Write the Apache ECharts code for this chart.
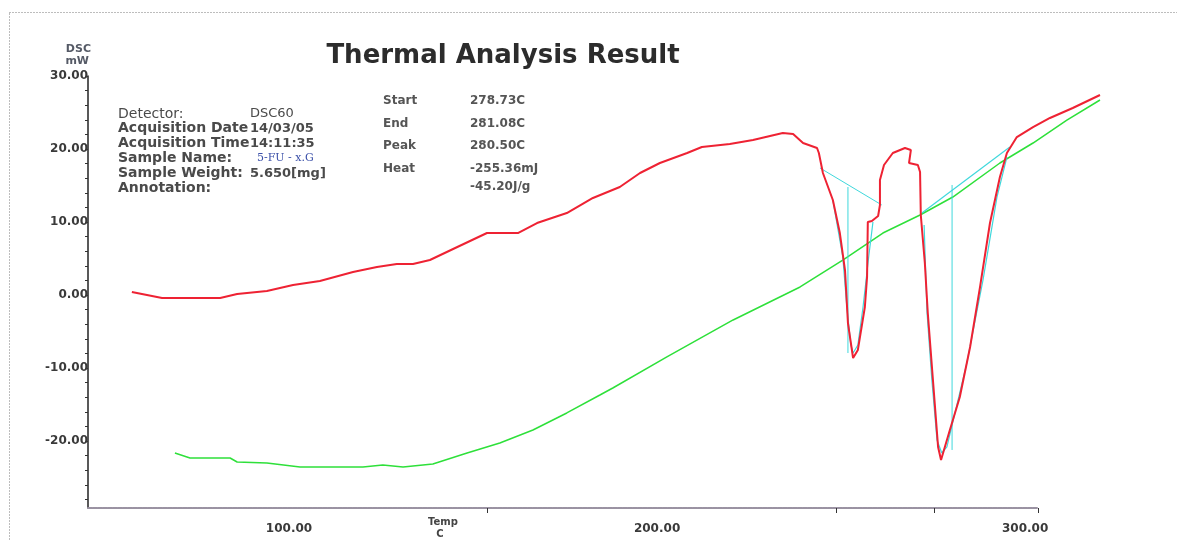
<!DOCTYPE html>
<html>
<head>
<meta charset="utf-8">
<title>Thermal Analysis Result</title>
<script src="https://cdn.jsdelivr.net/npm/echarts@6/dist/echarts.min.js"></script>
<style>
  html, body { margin: 0; padding: 0; background: #fff; }
  #chart { width: 1177px; height: 540px; }
</style>
</head>
<body>
<div id="chart"></div>
<script>
// DSC trace: [temperature C, heat flow mW]
const dscCurve = [
  [57.3, 0.41], [61.4, 0.0], [65.5, -0.41], [73.1, -0.41], [81.3, -0.41], [85.9, 0.14],
  [94.0, 0.55], [101.1, 1.37], [108.4, 1.92], [117.4, 3.15], [123.9, 3.84], [129.3, 4.25],
  [133.7, 4.25], [138.3, 4.79], [144.6, 6.30], [153.8, 8.49], [162.2, 8.49], [167.4, 9.86],
  [175.5, 11.23], [182.6, 13.29], [189.9, 14.79], [195.4, 16.71], [200.8, 18.08], [208.2, 19.45],
  [212.2, 20.27], [219.8, 20.68], [226.1, 21.23], [234.2, 22.19], [237.0, 22.05], [239.7, 20.82],
  [243.5, 20.14], [244.0, 19.45], [245.1, 16.71], [247.8, 13.01], [249.7, 8.49], [251.1, 3.42],
  [251.9, -3.84], [253.3, -8.63], [254.6, -7.53], [256.5, -1.64], [257.1, 2.47], [257.3, 10.0],
  [258.4, 10.14], [260.1, 10.82], [260.6, 12.33], [260.6, 15.75], [261.7, 17.81], [264.1, 19.45],
  [267.4, 20.14], [269.0, 19.86], [268.5, 18.08], [270.9, 17.81], [271.5, 16.85], [271.7, 10.96],
  [272.8, 4.38], [273.6, -2.47], [275.0, -11.64], [276.4, -20.82], [277.2, -22.60], [279.6, -18.49],
  [282.3, -13.97], [285.1, -7.12], [287.8, 1.10], [290.5, 9.86], [293.2, 16.16], [295.1, 19.45],
  [297.8, 21.64], [302.2, 23.01], [306.8, 24.25], [313.0, 25.62], [320.4, 27.40]
];

// second recorded trace
const tgCurve = [
  [69.0, -21.64], [73.1, -22.33], [84.0, -22.33], [85.9, -22.88], [94.0, -23.01], [103.0, -23.56],
  [120.1, -23.56], [125.5, -23.29], [131.0, -23.56], [139.1, -23.15], [148.4, -21.64], [157.3, -20.27],
  [166.3, -18.49], [175.5, -16.16], [184.5, -13.70], [188.0, -12.74], [202.7, -8.49], [220.7, -3.42],
  [238.9, 1.10], [250.5, 4.79], [261.4, 8.49], [271.5, 10.96], [280.4, 13.42], [293.2, 18.08],
  [302.2, 20.82], [311.4, 23.97], [320.4, 26.71]
];

// peak analysis, first endotherm
const peak1Baseline = [[244.3, 17.40], [261.1, 12.33]];
const peak1Fit = [
  [247.8, 13.01], [250.5, 5.21], [251.6, -1.64], [252.7, -6.85], [253.3, -7.95],
  [254.6, -6.85], [256.0, -1.64], [257.6, 5.48], [258.7, 10.0]
];
const peak1Marker = [[251.9, 14.79], [251.9, -7.95]];

// peak analysis, second endotherm
const peak2Baseline = [[272.0, 11.23], [295.9, 20.27]];
const peak2Fit = [
  [272.6, 9.59], [273.4, -2.47], [274.7, -11.64], [276.1, -19.86], [277.4, -21.64],
  [278.8, -20.82], [284.2, -9.32], [288.6, 2.05], [292.4, 13.42], [295.1, 18.90]
];
const peak2Marker = [[280.2, 15.07], [280.2, -21.23]];

// axis ranges: the scale frame ends at 303.5 C, the traces run on to 320.4 C
const tempMin = 45.38;
const tempAxisMax = 303.5;
const tempDataMax = 320.4;
const dscMin = -29.18;
const dscMax = 30;

const xLabels = [100, 200, 300];
const xTicks = [153.8, 248.6, 275.3, 303.5];
const yLabels = [-20, -10, 0, 10, 20, 30];
const yTicks = [-28, -26, -24, -22, -20, -18, -16, -14, -12, -10, -8, -6, -4, -2, 0,
  2, 4, 6, 8, 10, 12, 14, 16, 18, 20, 22, 24, 26, 28, 30];

const infoLabels = ['Detector:', 'Acquisition Date', 'Acquisition Time', 'Sample Name:', 'Sample Weight:', 'Annotation:'];
const infoValues = ['DSC60', '14/03/05', '14:11:35', '5-FU - x.G', '5.650[mg]', ''];
const peakLabels = ['Start', 'End', 'Peak', 'Heat'];
const peakValues = ['278.73C', '281.08C', '280.50C', '-255.36mJ', '-45.20J/g'];

const FONT = 'DejaVu Sans';
const chart = echarts.init(document.getElementById('chart'));

const pxPerDeg = 950 / (tempAxisMax - tempMin);
const dataGridWidth = Math.round((tempDataMax - tempMin) * pxPerDeg);

const graphics = [];
// dotted page frame
graphics.push({
  type: 'rect', silent: true,
  shape: { x: 9.5, y: 12.5, width: 1400, height: 800 },
  style: { fill: 'none', stroke: '#7a7a7a', lineWidth: 1, lineDash: [1, 2] }
});
graphics.push({
  type: 'text', x: 503, y: 56,
  style: { text: 'Thermal Analysis Result', font: 'bold 26px "' + FONT + '"', fill: '#2c2c2c', align: 'center', verticalAlign: 'middle' }
});
graphics.push({
  type: 'text', x: 91, y: 49,
  style: { text: 'DSC', font: 'bold 11px "' + FONT + '"', fill: '#555a66', align: 'right', verticalAlign: 'middle' }
});
graphics.push({
  type: 'text', x: 89, y: 61,
  style: { text: 'mW', font: 'bold 11px "' + FONT + '"', fill: '#555a66', align: 'right', verticalAlign: 'middle' }
});
graphics.push({
  type: 'text', x: 443, y: 522,
  style: { text: 'Temp', font: 'bold 10px "' + FONT + '"', fill: '#444', align: 'center', verticalAlign: 'middle' }
});
graphics.push({
  type: 'text', x: 440, y: 534,
  style: { text: 'C', font: 'bold 10px "' + FONT + '"', fill: '#444', align: 'center', verticalAlign: 'middle' }
});
infoLabels.forEach(function (t, i) {
  graphics.push({
    type: 'text', x: 118, y: 114 + i * 14.8,
    style: { text: t, font: (i === 0 ? '' : 'bold ') + '14px "' + FONT + '"', fill: '#4a4a4a', verticalAlign: 'middle' }
  });
});
infoValues.forEach(function (t, i) {
  if (!t) return;
  const isName = i === 3;
  graphics.push({
    type: 'text', x: isName ? 257 : 250, y: 114 + i * 14.8,
    style: {
      text: t,
      font: isName ? '11px "DejaVu Serif"' : (i === 0 ? '' : 'bold ') + '13px "' + FONT + '"',
      fill: isName ? '#3a4fa8' : '#4a4a4a', verticalAlign: 'middle'
    }
  });
});
peakLabels.forEach(function (t, i) {
  graphics.push({
    type: 'text', x: 383, y: 101 + i * 22.5,
    style: { text: t, font: 'bold 12px "' + FONT + '"', fill: '#555', verticalAlign: 'middle' }
  });
});
peakValues.forEach(function (t, i) {
  graphics.push({
    type: 'text', x: 470, y: i < 4 ? 101 + i * 22.5 : 187,
    style: { text: t, font: 'bold 12px "' + FONT + '"', fill: '#555', verticalAlign: 'middle' }
  });
});

function line(data, color, width, z) {
  return {
    type: 'line', data: data, symbol: 'none', z: z || 2,
    xAxisIndex: 1, yAxisIndex: 1,
    lineStyle: { color: color, width: width }, silent: true
  };
}

const labelStyle = {
  color: '#3a3a3a', fontFamily: FONT, fontWeight: 'bold', fontSize: 12,
  formatter: function (v) { return v.toFixed(2); }
};

chart.setOption({
  animation: false,
  backgroundColor: '#ffffff',
  grid: [
    { left: 88, top: 76, width: 950, height: 432 },
    { left: 88, top: 76, width: dataGridWidth, height: 432 }
  ],
  xAxis: [
    {
      type: 'value', gridIndex: 0, min: tempMin, max: tempAxisMax,
      axisLine: { onZero: false, lineStyle: { color: '#9a92a2', width: 2, type: [4, 1] } },
      axisTick: { show: true, customValues: xTicks, length: 5, lineStyle: { color: '#333' } },
      axisLabel: Object.assign({ customValues: xLabels, margin: 15 }, labelStyle),
      splitLine: { show: false }
    },
    {
      type: 'value', gridIndex: 1, min: tempMin, max: tempDataMax, show: false
    }
  ],
  yAxis: [
    {
      type: 'value', gridIndex: 0, min: dscMin, max: dscMax,
      axisLine: { show: true, lineStyle: { color: '#222', width: 1.5 } },
      axisTick: { show: true, customValues: yTicks, length: 3, lineStyle: { color: '#333' } },
      axisLabel: Object.assign({ customValues: yLabels, margin: 0 }, labelStyle),
      splitLine: { show: false }
    },
    {
      type: 'value', gridIndex: 1, min: dscMin, max: dscMax, show: false
    }
  ],
  graphic: graphics,
  series: [
    line(tgCurve, '#2ee03a', 1.5, 2),
    line(peak1Baseline, '#3fd8dc', 1, 3),
    line(peak1Fit, '#3fd8dc', 1.2, 3),
    line(peak1Marker, '#3fd8dc', 1, 3),
    line(peak2Baseline, '#3fd8dc', 1.2, 3),
    line(peak2Fit, '#3fd8dc', 1.2, 3),
    line(peak2Marker, '#3fd8dc', 1, 3),
    line(dscCurve, '#ee2233', 2, 4)
  ]
});
</script>
</body>
</html>
